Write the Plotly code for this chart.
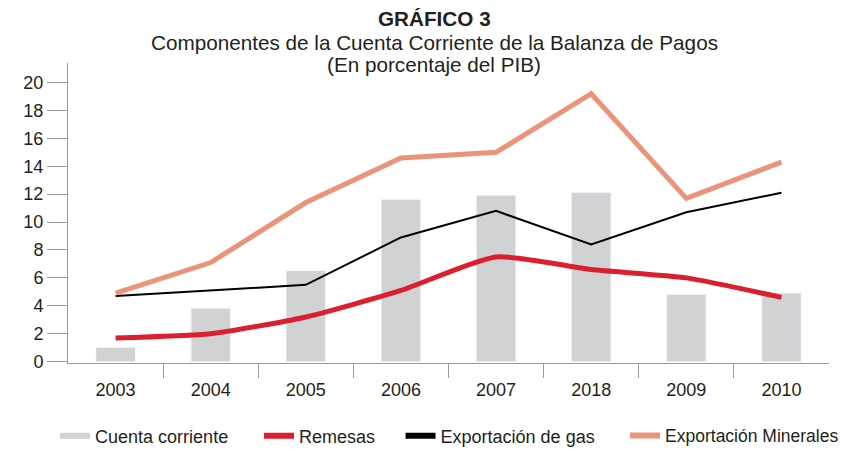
import plotly.graph_objects as go

years = ["2003", "2004", "2005", "2006", "2007", "2018", "2009", "2010"]
cuenta_corriente = [1.0, 3.8, 6.5, 11.6, 11.9, 12.1, 4.8, 4.9]
remesas = [1.7, 2.0, 3.2, 5.1, 7.5, 6.6, 6.0, 4.6]
exp_gas = [4.7, 5.1, 5.5, 8.9, 10.8, 8.4, 10.7, 12.1]
exp_minerales = [4.9, 7.1, 11.4, 14.6, 15.0, 19.2, 11.7, 14.3]
y_ticks = list(range(0, 21, 2))
x_boundaries = [i + 0.5 for i in range(len(years) - 1)]

GREY = "#D1D2D4"
RED = "#DC1F2E"
BLACK = "#000000"
ORANGE = "#EB9479"
TEXT = "#231F20"
AXIS = "#9A9A9A"
FONT = "Liberation Sans, Arial, sans-serif"

fig = go.Figure()
fig.add_trace(go.Bar(x=years, y=cuenta_corriente, marker_color=GREY, width=0.41,
                     name="Cuenta corriente", showlegend=False))
fig.add_trace(go.Scatter(x=years, y=remesas, mode="lines", name="Remesas", showlegend=False,
                         line=dict(color=RED, width=5, shape="spline", smoothing=0.6)))
fig.add_trace(go.Scatter(x=years, y=exp_gas, mode="lines", name="Exportación de gas",
                         showlegend=False, line=dict(color=BLACK, width=2)))
fig.add_trace(go.Scatter(x=years, y=exp_minerales, mode="lines", name="Exportación Minerales",
                         showlegend=False, line=dict(color=ORANGE, width=5)))

# invisible trace carrying the tick-only axis (ticks between categories)
fig.add_trace(go.Scatter(x=[None], y=[None], xaxis="x2", showlegend=False, hoverinfo="skip"))

# legend entries (thick line symbols, each in its own legend box)
legend_items = [
    ("Cuenta corriente", GREY, "legend", -0.017, 18),
    ("Remesas", RED, "legend2", 0.251, 18),
    ("Exportación de gas", BLACK, "legend3", 0.437, 18),
    ("Exportación Minerales", ORANGE, "legend4", 0.732, 17.5),
]
legend_layout = {}
for name, color, lg, lx, fs in legend_items:
    fig.add_trace(go.Scatter(x=[None], y=[None], mode="lines", name=name, legend=lg,
                             line=dict(color=color, width=6)))
    legend_layout[lg] = dict(orientation="h", x=lx, xanchor="left", y=-0.182, yanchor="top",
                             font=dict(size=fs, color=TEXT), bgcolor="rgba(0,0,0,0)")

title_lines = [
    ("<b>GRÁFICO 3</b>", 1.15),
    ("Componentes de la Cuenta Corriente de la Balanza de Pagos", 1.067),
    ("(En porcentaje del PIB)", 0.995),
]
for txt, yp in title_lines:
    fig.add_annotation(text=txt, xref="paper", yref="paper", x=0.481, y=yp,
                       xanchor="center", yanchor="middle", showarrow=False,
                       font=dict(family=FONT, size=20.7, color=TEXT))

# page has an 8px body margin, so the figure is 842x441 placed at (8, 8)
fig.update_layout(
    width=842, height=441,
    margin=dict(l=60, r=21, t=55, b=86, autoexpand=False),
    paper_bgcolor="white", plot_bgcolor="white",
    font=dict(family=FONT, size=18, color=TEXT),
    bargap=0.59,
    **legend_layout,
    xaxis=dict(type="category", showline=True, linecolor=AXIS, linewidth=1,
               ticks="outside", ticklen=10, tickcolor="rgba(0,0,0,0)",
               showgrid=False, tickfont=dict(size=18, color=TEXT)),
    xaxis2=dict(overlaying="x", side="bottom", range=[-0.5, len(years) - 0.5],
                tickvals=x_boundaries, showticklabels=False, ticks="outside", ticklen=14,
                tickcolor=AXIS, showline=False, showgrid=False, zeroline=False),
    yaxis=dict(range=[-0.1, 21.4], tickvals=y_ticks, showline=True, linecolor=AXIS,
               linewidth=1, ticks="outside", ticklen=20, tickcolor=AXIS,
               showgrid=False, zeroline=False, tickfont=dict(size=18, color=TEXT)),
)

fig.write_html("out.html")
